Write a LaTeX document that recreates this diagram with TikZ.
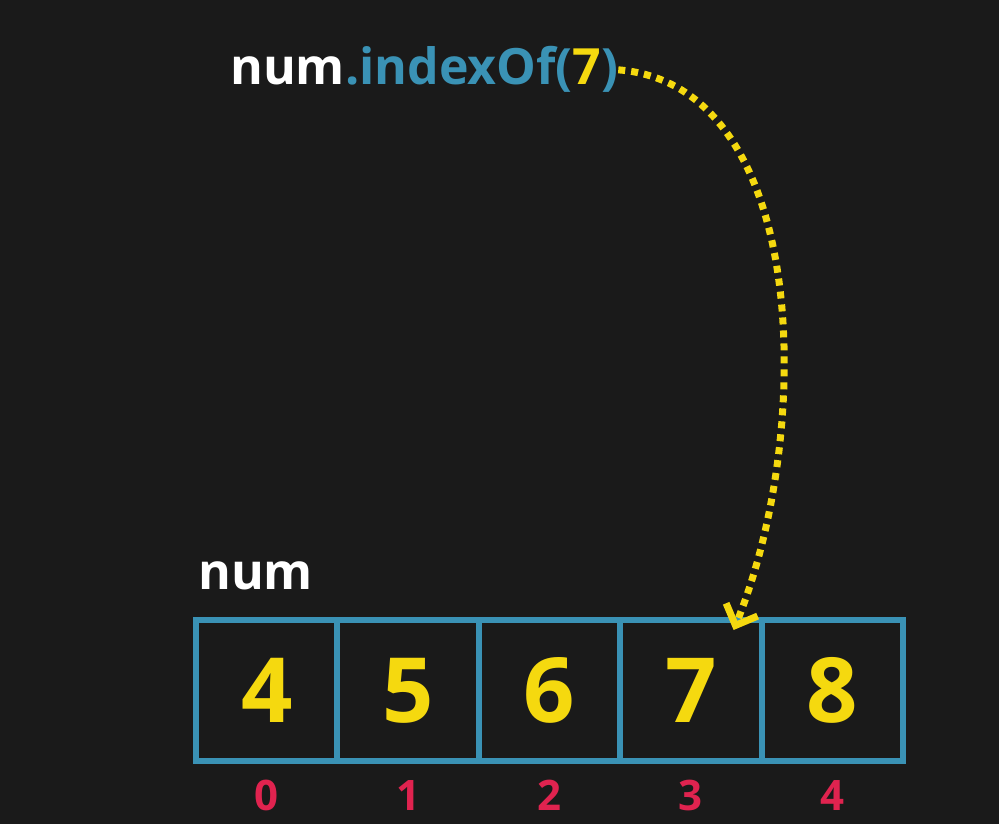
\documentclass[tikz,border=0pt]{standalone}
\usepackage{fontspec}
\setmainfont{Open Sans}
\usepackage{xcolor}
\usetikzlibrary{positioning, arrows.meta}
\definecolor{bg}{HTML}{1A1A1A}
\definecolor{cellblue}{HTML}{3A92B5}
\definecolor{numyellow}{HTML}{F5D90F}
\definecolor{idxred}{HTML}{E0234F}
\begin{document}
\begin{tikzpicture}[x=1pt, y=-1pt,
  cell/.style={draw=cellblue, line width=6pt, minimum width=141.4pt, minimum height=141pt,
    inner sep=0pt, outer sep=0pt, text=numyellow, font=\fontsize{90}{90}\selectfont\bfseries},
  idx/.style={text=idxred, inner sep=0pt, font=\fontsize{42}{42}\selectfont\bfseries}]
\fill[bg] (0,0) rectangle (999,824);
\useasboundingbox (0,0) rectangle (999,824);
% the array
\node[cell] (c0) at (266.7,690.5) {4};
\foreach \v [count=\i from 1, remember=\i as \j (initially 0)] in {5,6,7,8}
  \node[cell, right=0pt of c\j] (c\i) {\v};
\foreach \i in {0,...,4}
  \node[idx, below=19pt of c\i] (i\i) {\i};
\node[above right=30pt and 2pt of c0.north west, inner sep=0pt, text=white,
  font=\fontsize{50}{50}\selectfont\bfseries] (arr) {num};
% the call
\node[anchor=base west, inner sep=0pt, font=\fontsize{50}{50}\selectfont\bfseries] (call) at (230,85)
  {\textcolor{white}{num}\textcolor{cellblue}{.indexOf(}\textcolor{numyellow}{7}\textcolor{cellblue}{)}};
\coordinate (hit) at ([xshift=-28pt, yshift=-10pt]c3.north east);
\draw[numyellow, line width=7pt, dash pattern=on 7pt off 6pt,
  -{Straight Barb[length=17pt, width=34pt, line width=7pt]}]
  (call.east) .. controls (810,85) and (815,430) .. (hit);
\end{tikzpicture}
\end{document}
